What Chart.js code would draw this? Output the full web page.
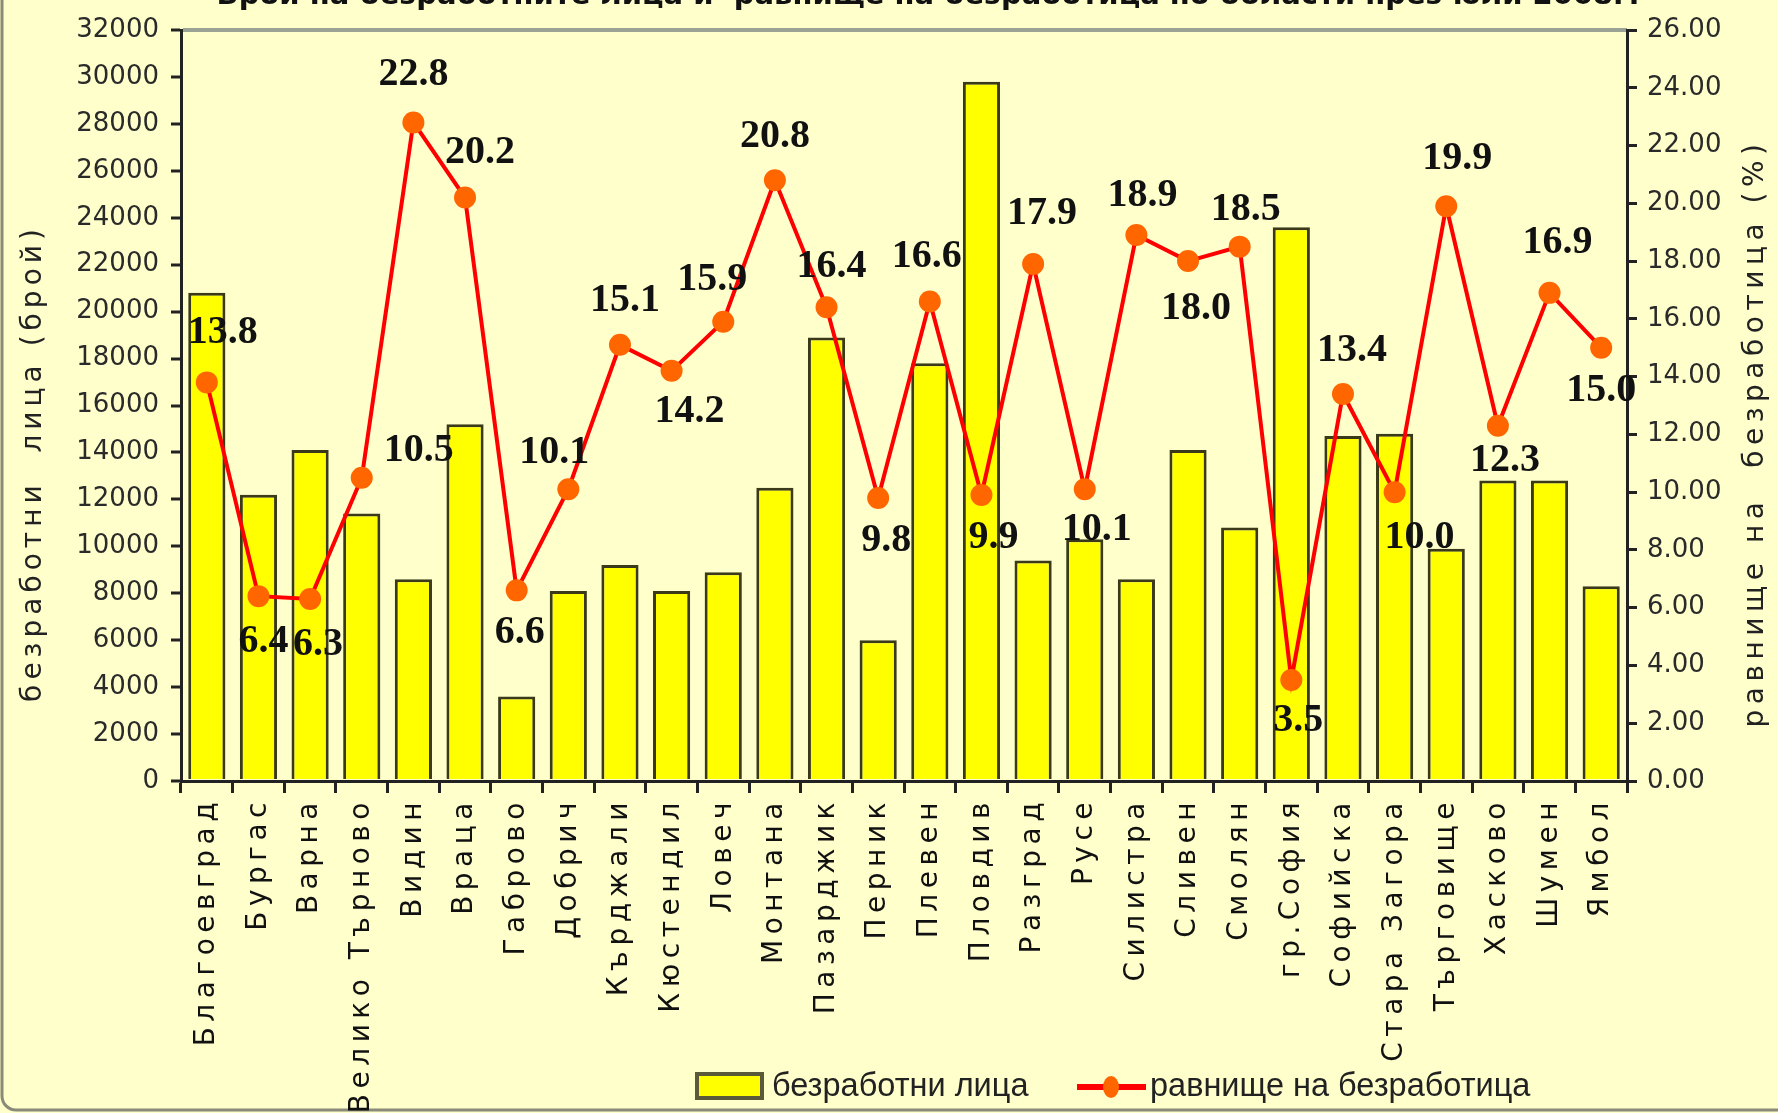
<!DOCTYPE html>
<html>
<head>
<meta charset="utf-8">
<script src="https://cdn.jsdelivr.net/npm/chart.js@4.4.1/dist/chart.umd.min.js"></script>
<style>
  html, body { margin: 0; padding: 0; background: #FFFFCC; }
  #wrap { width: 1778px; height: 1113px; position: relative; }
</style>
</head>
<body>
<div id="wrap"><canvas id="c" width="1778" height="1113"></canvas></div>
<script>
const categories = ['Благоевград','Бургас','Варна','Велико Търново','Видин','Враца','Габрово','Добрич','Кърджали','Кюстендил','Ловеч','Монтана','Пазарджик','Перник','Плевен','Пловдив','Разград','Русе','Силистра','Сливен','Смолян','гр.София','Софийска','Стара Загора','Търговище','Хасково','Шумен','Ямбол'];
const unemployed = [20800,12200,14100,11400,8600,15200,3600,8100,9200,8100,8900,12500,18900,6000,17800,29800,9400,10300,8600,14100,10800,23600,14700,14800,9900,12800,12800,8300];
const rate = [13.8,6.4,6.3,10.5,22.8,20.2,6.6,10.1,15.1,14.2,15.9,20.8,16.4,9.8,16.6,9.9,17.9,10.1,18.9,18.0,18.5,3.5,13.4,10.0,19.9,12.3,16.9,15.0];
const seriesNames = ['безработни лица','равнище на безработица'];
const leftTitle = 'безработни  лица (брой)';
const rightTitle = 'равнище на  безработица (%)';
const chartTitle = 'Брой на безработните лица и  равнище на безработица по области през юли 2008г.';

const labelOffsets = [[16,-50],[5,46],[8,46],[57,-27],[0,-48],[15,-45],[3,42],[-14,-37],[5,-44],[18,41],[-11,-42],[0,-44],[5,-41],[8,43],[-3,-45],[12,43],[9,-50],[12,40],[6,-39],[8,48],[6,-37],[7,41],[9,-43],[25,46],[11,-48],[7,35],[8,-50],[0,43]];

const extras = {
  id: 'extras',
  beforeDraw(chart) {
    const ctx = chart.ctx;
    ctx.save();
    ctx.fillStyle = '#FFFFCC';
    ctx.fillRect(0, 0, chart.width, chart.height);
    // frame
    ctx.strokeStyle = '#8a8a78';
    ctx.lineWidth = 3;
    ctx.beginPath();
    ctx.roundRect(2, -40, 1840, 1150, 14);
    ctx.stroke();
    // title (cut off at top)
    ctx.fillStyle = '#111';
    ctx.font = 'bold 29px "DejaVu Sans"';
    ctx.textAlign = 'center';
    ctx.textBaseline = 'alphabetic';
    ctx.fillText(chartTitle, 928, 4);
    ctx.restore();
    // patch x labels letter spacing
    const xs = chart.scales.x;
    if (!xs._patched) {
      const orig = xs.drawLabels.bind(xs);
      xs.drawLabels = function(area) {
        const c = this.ctx;
        c.save();
        c.letterSpacing = '5.5px';
        orig(area);
        c.restore();
      };
      xs._patched = true;
    }
  },
  afterDatasetsDraw(chart) {
    const ctx = chart.ctx;
    const meta = chart.getDatasetMeta(1);
    ctx.save();
    ctx.font = 'bold 40px "Liberation Serif"';
    ctx.fillStyle = '#111';
    ctx.textAlign = 'center';
    ctx.textBaseline = 'middle';
    meta.data.forEach((pt, i) => {
      const o = labelOffsets[i];
      ctx.fillText(rate[i].toFixed(1), pt.x + o[0], pt.y + o[1]);
    });
    ctx.restore();
  },
  afterDraw(chart) {
    const ctx = chart.ctx;
    ctx.save();
    // axis titles
    ctx.fillStyle = '#222';
    ctx.font = '28px "DejaVu Sans"';
    ctx.textAlign = 'center';
    ctx.textBaseline = 'middle';
    ctx.save();
    ctx.letterSpacing = '5px';
    ctx.translate(34, 463);
    ctx.rotate(-Math.PI / 2);
    ctx.fillText(leftTitle, 0, 0);
    ctx.restore();
    ctx.save();
    ctx.letterSpacing = '5.5px';
    ctx.translate(1756, 433);
    ctx.rotate(-Math.PI / 2);
    ctx.fillText(rightTitle, 0, 0);
    ctx.restore();
    // legend
    const ly = 1087;
    ctx.fillStyle = '#FFFF00';
    ctx.fillRect(697, 1074, 65, 24);
    ctx.strokeStyle = '#5a5a3a';
    ctx.lineWidth = 4;
    ctx.strokeRect(697, 1074, 65, 24);
    ctx.fillStyle = '#222';
    ctx.font = '32.5px "Liberation Sans"';
    ctx.textAlign = 'left';
    ctx.fillText(seriesNames[0], 772, ly);
    ctx.strokeStyle = '#FF0000';
    ctx.lineWidth = 6;
    ctx.beginPath();
    ctx.moveTo(1077, ly);
    ctx.lineTo(1146, ly);
    ctx.stroke();
    ctx.fillStyle = '#FF6600';
    ctx.beginPath();
    ctx.ellipse(1111, ly, 8, 11, 0, 0, Math.PI * 2);
    ctx.fill();
    ctx.fillStyle = '#222';
    ctx.fillText(seriesNames[1], 1150, ly);
    ctx.restore();
  }
};

new Chart(document.getElementById('c'), {
  data: {
    labels: categories,
    datasets: [
      {
        type: 'bar',
        label: seriesNames[0],
        data: unemployed,
        yAxisID: 'y',
        backgroundColor: '#FFFF00',
        borderColor: '#3a3a1a',
        borderWidth: 3,
        barPercentage: 0.72,
        categoryPercentage: 1,
        order: 2
      },
      {
        type: 'line',
        label: seriesNames[1],
        data: rate,
        yAxisID: 'y1',
        borderColor: '#FF0000',
        borderWidth: 4,
        pointRadius: 11,
        pointBackgroundColor: '#FF6600',
        pointBorderWidth: 0,
        tension: 0,
        order: 1
      }
    ]
  },
  options: {
    responsive: false,
    animation: false,
    layout: { padding: { top: 30, left: 0, right: 0, bottom: 0 } },
    plugins: {
      legend: { display: false },
      tooltip: { enabled: false }
    },
    scales: {
      x: {
        afterFit(s) { s.height = 332; },
        grid: { offset: true, drawOnChartArea: false, color: '#222', tickLength: 12, lineWidth: 3 },
        border: { color: '#222', width: 3 },
        ticks: {
          autoSkip: false, maxRotation: 90, minRotation: 90, padding: 4,
          color: '#111',
          font: { family: 'DejaVu Sans', size: 28 }
        }
      },
      y: {
        position: 'left',
        min: 0, max: 32000,
        afterFit(s) { s.width = 181; },
        ticks: { stepSize: 2000, color: '#2a2a2a', padding: 12, font: { family: 'DejaVu Sans', size: 26 }, callback: (v) => String(v) },
        grid: {
          color: (c) => c.tick && c.tick.value === 32000 ? '#9aa394' : 'rgba(0,0,0,0)',
          lineWidth: 4, tickColor: '#222', tickLength: 10, tickWidth: 3
        },
        border: { color: '#222', width: 3 }
      },
      y1: {
        position: 'right',
        min: 0, max: 26,
        afterFit(s) { s.width = 151; },
        ticks: { stepSize: 2, color: '#2a2a2a', padding: 10, font: { family: 'DejaVu Sans', size: 26 }, callback: (v) => Number(v).toFixed(2) },
        grid: { drawOnChartArea: false, tickColor: '#222', tickLength: 10, tickWidth: 3 },
        border: { color: '#222', width: 3 }
      }
    }
  },
  plugins: [extras]
});
</script>
</body>
</html>
